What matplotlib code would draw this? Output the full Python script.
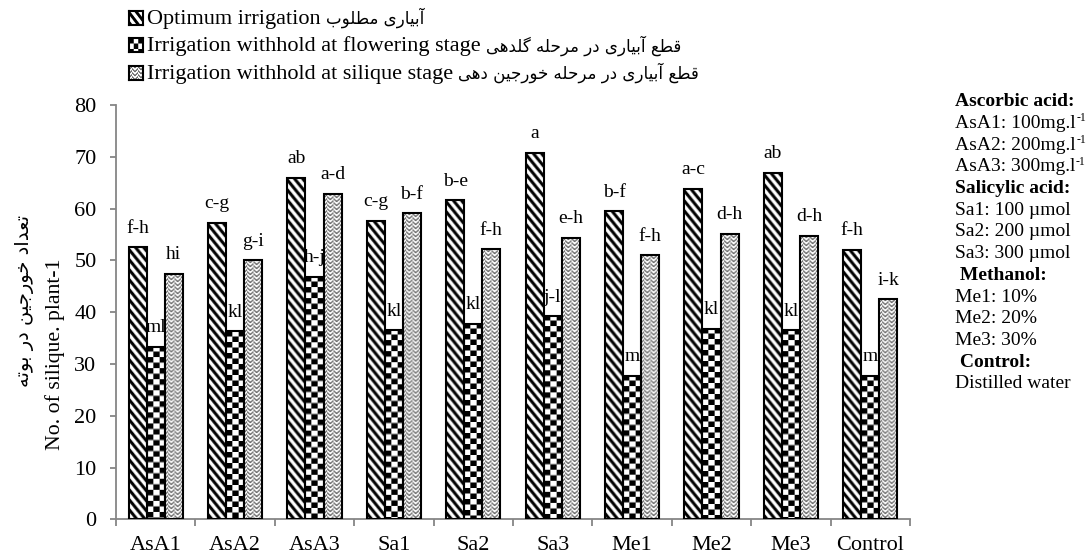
import matplotlib.pyplot as plt
import numpy as np

plt.rcParams['font.family'] = 'Liberation Serif'

categories = ['AsA1', 'AsA2', 'AsA3', 'Sa1', 'Sa2', 'Sa3', 'Me1', 'Me2', 'Me3', 'Control']
optimum = [52.5, 57.3, 65.9, 57.6, 61.6, 70.8, 59.5, 63.8, 66.9, 52.0]
flowering = [33.3, 36.3, 46.8, 36.5, 37.8, 39.2, 27.7, 36.8, 36.5, 27.7]
silique = [47.4, 50.0, 62.9, 59.1, 52.1, 54.4, 51.0, 55.1, 54.8, 42.5]
opt_letters = ['f-h', 'c-g', 'ab', 'c-g', 'b-e', 'a', 'b-f', 'a-c', 'ab', 'f-h']
flow_letters = ['ml', 'kl', 'h-j', 'kl', 'kl', 'j-l', 'm', 'kl', 'kl', 'm']
sil_letters = ['hi', 'g-i', 'a-d', 'b-f', 'f-h', 'e-h', 'f-h', 'd-h', 'd-h', 'i-k']

legend_en = ['Optimum irrigation',
             'Irrigation withhold at flowering stage',
             'Irrigation withhold at silique stage']
legend_fa = ['آبیاری مطلوب',
             'قطع آبیاری در مرحله گلدهی',
             'قطع آبیاری در مرحله خورجین دهی']
ylabel_en = 'No. of silique. plant-1'
ylabel_fa = 'تعداد خورجین در بوته'

# (text, superscript, bold)
notes = [('Ascorbic acid:', '', True),
         ('AsA1: 100mg.l', '-1', False),
         ('AsA2: 200mg.l', '-1', False),
         ('AsA3: 300mg.l', '-1', False),
         ('Salicylic acid:', '', True),
         ('Sa1: 100 µmol', '', False),
         ('Sa2: 200 µmol', '', False),
         ('Sa3: 300 µmol', '', False),
         (' Methanol:', '', True),
         ('Me1: 10%', '', False),
         ('Me2: 20%', '', False),
         ('Me3: 30%', '', False),
         (' Control:', '', True),
         ('Distilled water', '', False)]

# isolated, final, initial, medial presentation forms
FORMS = {
    'آ': (0xFE81, 0xFE82, None, None),
    'ا': (0xFE8D, 0xFE8E, None, None),
    'ب': (0xFE8F, 0xFE90, 0xFE91, 0xFE92),
    'ت': (0xFE95, 0xFE96, 0xFE97, 0xFE98),
    'ج': (0xFE9D, 0xFE9E, 0xFE9F, 0xFEA0),
    'ح': (0xFEA1, 0xFEA2, 0xFEA3, 0xFEA4),
    'خ': (0xFEA5, 0xFEA6, 0xFEA7, 0xFEA8),
    'د': (0xFEA9, 0xFEAA, None, None),
    'ر': (0xFEAD, 0xFEAE, None, None),
    'ط': (0xFEC1, 0xFEC2, 0xFEC3, 0xFEC4),
    'ع': (0xFEC9, 0xFECA, 0xFECB, 0xFECC),
    'ق': (0xFED5, 0xFED6, 0xFED7, 0xFED8),
    'ل': (0xFEDD, 0xFEDE, 0xFEDF, 0xFEE0),
    'م': (0xFEE1, 0xFEE2, 0xFEE3, 0xFEE4),
    'ن': (0xFEE5, 0xFEE6, 0xFEE7, 0xFEE8),
    'ه': (0xFEE9, 0xFEEA, 0xFEEB, 0xFEEC),
    'و': (0xFEED, 0xFEEE, None, None),
    'ی': (0xFEEF, 0xFEF0, 0xFEF3, 0xFEF4),
    'گ': (0xFB92, 0xFB93, 0xFB94, 0xFB95),
}


def shape_fa(s):
    out = []
    for i, ch in enumerate(s):
        if ch not in FORMS:
            out.append(ch)
            continue
        prev = s[i - 1] if i > 0 else ''
        nxt = s[i + 1] if i + 1 < len(s) else ''
        jp = prev in FORMS and FORMS[prev][2] is not None
        jn = FORMS[ch][2] is not None and nxt in FORMS
        iso, fin, ini, med = FORMS[ch]
        code = med if (jp and jn) else fin if jp else ini if jn else iso
        out.append(chr(code))
    return ''.join(out)[::-1]


def texture(kind, w, h, ss=4):
    yy, xx = (np.mgrid[0:h * ss, 0:w * ss] + 0.5) / ss
    if kind == 'stripes':
        ink = ((yy - 1.3 * xx) % 10) < 4.8
        fg = 0.0
    elif kind == 'checker':
        ink = ((xx // (w / 3)).astype(int) + (yy // 5.5).astype(int)) % 2 == 0
        fg = 0.0
    else:
        block = (xx // 3) % 2
        d = np.where(block == 0, yy + xx, yy - xx)
        ink = (d % 4) < 1.4
        fg = 0.3
    v = np.where(ink, fg, 1.0).reshape(h, ss, w, ss).mean(axis=(1, 3))
    return np.dstack([v, v, v])


W, H = 1090, 556
fig = plt.figure(figsize=(W / 100, H / 100), dpi=100)
ax = fig.add_axes([116 / W, 1 - 519.3 / H, 794 / W, (519.3 - 105) / H])
ax.set_xlim(-0.5, 9.5)
ax.set_ylim(0, 80)
ax.set_autoscale_on(False)

x = np.arange(len(categories))
bw = 0.227
series = [(optimum, opt_letters, 'stripes'),
          (flowering, flow_letters, 'checker'),
          (silique, sil_letters, 'zigzag')]
for k, (vals, letters, kind) in enumerate(series):
    bars = ax.bar(x + (k - 1) * bw, vals, bw, facecolor='none',
                  edgecolor='black', linewidth=1.5, zorder=3)
    for b, lab in zip(bars, letters):
        x0, w, h = b.get_x(), b.get_width(), b.get_height()
        (px0, py0), (px1, py1) = ax.transData.transform([(x0, 0), (x0 + w, h)])
        img = texture(kind, max(int(round(px1 - px0)), 1), max(int(round(py1 - py0)), 1))
        ax.imshow(img, extent=(x0, x0 + w, 0, h), aspect='auto',
                  interpolation='bilinear', zorder=2)
        ax.annotate(lab, (x0 + w / 2, h), xytext=(0, 10.5), textcoords='offset points',
                    ha='center', va='baseline', fontsize=14, zorder=4)

for side in ['top', 'right']:
    ax.spines[side].set_visible(False)
for side in ['left', 'bottom']:
    ax.spines[side].set_color('#868686')
    ax.spines[side].set_linewidth(1.3)

ax.set_yticks(np.arange(0, 81, 10))
ax.tick_params(axis='y', direction='out', length=4.5, width=1.3, color='#868686',
               labelsize=16, pad=9.5)
ax.set_xticks(x, categories)
ax.set_xticks(np.arange(-0.5, 10, 1), minor=True)
ax.tick_params(axis='x', which='major', length=0, labelsize=16, pad=12)
ax.tick_params(axis='x', which='minor', direction='out', length=5, width=1.3,
               color='#868686')

fig.text(55 / W, 1 - 354 / H, ylabel_en, rotation=90, ha='center', va='center',
         fontsize=15.7)
fig.text(25 / W, 1 - 301 / H, shape_fa(ylabel_fa), rotation=90, ha='center',
         va='center', family='DejaVu Sans', fontsize=14)

# legend rows on top
renderer = fig.canvas.get_renderer()
for i, (en, fa, kind) in enumerate(zip(legend_en, legend_fa, ['stripes', 'checker', 'zigzag'])):
    base = [24, 51.5, 79][i]
    mk = fig.add_axes([129 / W, 1 - (base + 0.5) / H, 14 / W, 14 / H])
    mk.imshow(texture(kind, 14, 14), interpolation='nearest', aspect='auto')
    mk.set_xticks([])
    mk.set_yticks([])
    for sp in mk.spines.values():
        sp.set_linewidth(1.5)
    t = fig.text(147 / W, 1 - base / H, en, ha='left', va='baseline', fontsize=16)
    x1 = t.get_window_extent(renderer).x1
    fig.text((x1 + 5) / W, 1 - base / H, shape_fa(fa), ha='left', va='baseline',
             family='DejaVu Sans', fontsize=12)

# treatment notes on the right
for i, (txt, sup, bold) in enumerate(notes):
    yy = 1 - (101.7 + i * 21.7) / H
    t = fig.text(955 / W, yy, txt, ha='left', va='center', fontsize=14,
                 fontweight='bold' if bold else 'normal')
    if sup:
        x1 = t.get_window_extent(renderer).x1
        fig.text((x1 + 0.5) / W, yy + 5 / H, sup, ha='left', va='center', fontsize=8.5)

fig.savefig('out.png', dpi=100)
